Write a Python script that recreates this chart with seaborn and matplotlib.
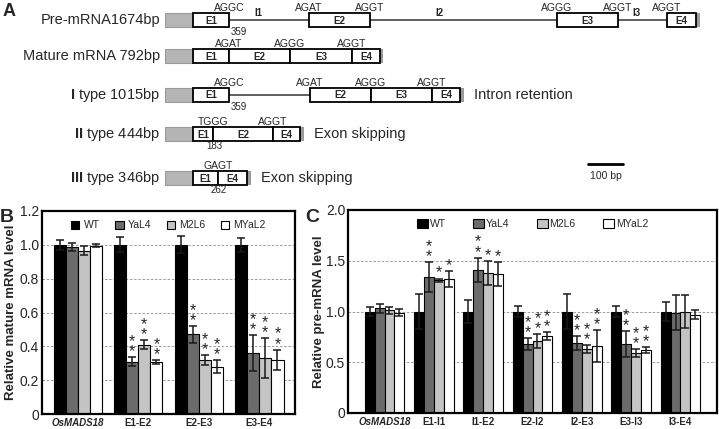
import numpy as np
import pandas as pd
import seaborn as sns
import matplotlib.pyplot as plt
from matplotlib.patches import Rectangle

# ---- data -------------------------------------------------------------
lines = ['WT', 'YaL4', 'M2L6', 'MYaL2']
colors = ['#000000', '#6b6b6b', '#c4c4c4', '#ffffff']

# B: relative mature mRNA level
b_targets = ['OsMADS18', 'E1-E2', 'E2-E3', 'E3-E4']
b_wt = [1.0, 1.0, 1.0, 1.0]
b_wt_err = [0.03, 0.045, 0.05, 0.04]
b_yal4 = [0.985, 0.31, 0.47, 0.36]
b_yal4_err = [0.024, 0.025, 0.05, 0.105]
b_m2l6 = [0.965, 0.41, 0.32, 0.33]
b_m2l6_err = [0.027, 0.025, 0.028, 0.12]
b_myal2 = [0.995, 0.305, 0.28, 0.32]
b_myal2_err = [0.01, 0.012, 0.037, 0.06]
b_stars = [[0, 0, 0, 0], [0, 2, 2, 2], [0, 2, 2, 2], [0, 2, 2, 2]]  # per line

# C: relative pre-mRNA level
c_targets = ['OsMADS18', 'E1-I1', 'I1-E2', 'E2-I2', 'I2-E3', 'E3-I3', 'I3-E4']
c_wt = [1.0, 1.0, 1.0, 1.0, 1.0, 1.0, 1.0]
c_wt_err = [0.04, 0.17, 0.115, 0.05, 0.17, 0.055, 0.09]
c_yal4 = [1.03, 1.34, 1.41, 0.68, 0.69, 0.68, 0.99]
c_yal4_err = [0.04, 0.15, 0.12, 0.055, 0.07, 0.13, 0.17]
c_m2l6 = [1.01, 1.31, 1.38, 0.71, 0.63, 0.59, 1.0]
c_m2l6_err = [0.035, 0.015, 0.12, 0.07, 0.04, 0.04, 0.16]
c_myal2 = [0.99, 1.32, 1.37, 0.76, 0.66, 0.62, 0.97]
c_myal2_err = [0.035, 0.08, 0.12, 0.04, 0.16, 0.03, 0.045]
c_stars = [[0, 0, 0, 0, 0, 0, 0], [0, 2, 2, 2, 2, 2, 0],
           [0, 1, 1, 2, 2, 2, 0], [0, 1, 1, 2, 2, 2, 0]]

# A: transcript structures (segment kind, length in drawing units, name)
row_names = ['Pre-mRNA1674bp', 'Mature mRNA 792bp', r'$\mathbf{I}$ type 1015bp',
             r'$\mathbf{II}$ type 444bp', r'$\mathbf{III}$ type 346bp']
row_segs = [
    [('utr', 28, ''), ('exon', 36, 'E1'), ('intron', 80, 'I1'), ('exon', 61, 'E2'),
     ('intron', 187, 'I2'), ('exon', 61, 'E3'), ('intron', 49, 'I3'), ('exon', 29, 'E4'),
     ('tail', 4, '')],
    [('utr', 28, ''), ('exon', 36, 'E1'), ('exon', 61, 'E2'), ('exon', 62, 'E3'),
     ('exon', 28, 'E4'), ('tail', 3, '')],
    [('utr', 28, ''), ('exon', 36, 'E1'), ('intron', 81, ''), ('exon', 61, 'E2'),
     ('exon', 61, 'E3'), ('exon', 28, 'E4'), ('tail', 4, '')],
    [('utr', 28, ''), ('exon', 20, 'E1'), ('exon', 60, 'E2'), ('exon', 27, 'E4'),
     ('tail', 4, '')],
    [('utr', 28, ''), ('exon', 25, 'E1'), ('exon', 29, 'E4'), ('tail', 4, '')],
]
row_sites = [
    [(2, 'AGGC'), (3, 'AGAT'), (4, 'AGGT'), (5, 'AGGG'), (6, 'AGGT'), (7, 'AGGT')],
    [(2, 'AGAT'), (3, 'AGGG'), (4, 'AGGT')],
    [(2, 'AGGC'), (3, 'AGAT'), (4, 'AGGG'), (5, 'AGGT')],
    [(2, 'TGGG'), (3, 'AGGT')],
    [(2, 'GAGT')],
]
row_pos = [[(2, '359')], [], [(2, '359')], [(2, '183')], [(2, '262')]]
row_notes = ['', '', 'Intron retention', 'Exon skipping', 'Exon skipping']

# ---- style ------------------------------------------------------------
sns.set_theme(style='white')
plt.rcParams['font.family'] = ['Liberation Sans', 'DejaVu Sans']
plt.rcParams['mathtext.fontset'] = 'custom'
plt.rcParams['mathtext.rm'] = 'Liberation Sans'
plt.rcParams['mathtext.bf'] = 'Liberation Sans:bold'

W, H = 719, 429
fig = plt.figure(figsize=(W / 100, H / 100), dpi=100)
fig.patch.set_facecolor('white')

ax_a = fig.add_axes([0, 0, 1, 1])
ax_a.set_xlim(0, W)
ax_a.set_ylim(H, 0)
ax_a.axis('off')


def draw_transcript(ax, y, segs, x0=165, h=14):
    x = x0
    edges = [x]
    for kind, w, name in segs:
        if kind == 'utr':
            ax.add_patch(Rectangle((x, y - h / 2), w, h, fc='#b5b5b5', ec='#9a9a9a', lw=0.8))
        elif kind == 'tail':
            ax.add_patch(Rectangle((x, y - h / 2), w, h, fc='#9c9c9c', ec='none'))
        elif kind == 'exon':
            ax.add_patch(Rectangle((x, y - h / 2), w, h, fc='white', ec='black', lw=1.3, zorder=3))
            ax.text(x + w / 2, y + 0.5, name, ha='center', va='center', fontsize=7,
                    weight='bold', zorder=4)
        elif kind == 'intron':
            ax.plot([x, x + w], [y, y], color='#444444', lw=1.2)
            if name:
                ax.text(x + 0.37 * w, y - 2, name, ha='center', va='bottom',
                        fontsize=7, weight='bold')
        x += w
        edges.append(x)
    return edges


row_y = [20, 56, 95, 134, 178]
for y, name, segs, sites, pos, note in zip(row_y, row_names, row_segs, row_sites,
                                           row_pos, row_notes):
    edges = draw_transcript(ax_a, y, segs)
    ax_a.text(160, y, name, ha='right', va='center', fontsize=10.5)
    for i, s in sites:
        ax_a.text(edges[i], y - 9, s, ha='center', va='baseline', fontsize=7.5)
    for i, s in pos:
        off = 10 if s == '359' else 1
        ax_a.text(edges[i] + off, y + 7, s, ha='center', va='top', fontsize=7)
    if note:
        ax_a.text(edges[-1] + 10, y, note, ha='left', va='center', fontsize=10.5)

ax_a.plot([588, 623], [164, 164], color='black', lw=2)
ax_a.text(605.5, 176, '100 bp', ha='center', va='center', fontsize=7.5)
ax_a.text(3, 11, 'A', ha='left', va='center', fontsize=13, weight='bold')
ax_a.text(0, 217, 'B', ha='left', va='center', fontsize=14, weight='bold')
ax_a.text(305, 217, 'C', ha='left', va='center', fontsize=14, weight='bold')


def bar_panel(ax, targets, vals, errs, stars, ymax, step, ylabel, label_x, leg_kw):
    df = pd.DataFrame({
        'target': targets * len(lines),
        'line': np.repeat(lines, len(targets)),
        'value': np.concatenate(vals),
    })
    sns.barplot(data=df, x='target', y='value', hue='line', hue_order=lines,
                palette=colors, edgecolor='black', linewidth=0.8, errorbar=None,
                width=0.8, ax=ax, zorder=2)
    for cont, e, s in zip(ax.containers, errs, stars):
        xs = [b.get_x() + b.get_width() / 2 for b in cont]
        hs = [b.get_height() for b in cont]
        ax.errorbar(xs, hs, yerr=e, fmt='none', ecolor='#1a1a1a', elinewidth=1.1,
                    capsize=3.2, capthick=1.1, zorder=3)
        for x, h, ee, n in zip(xs, hs, e, s):
            if n:
                ax.annotate('\n'.join(['*'] * n), (x, h + ee), xytext=(0, -1.5),
                            textcoords='offset points', ha='center', va='bottom',
                            fontsize=11.5, linespacing=0.6)

    ax.set_ylim(0, ymax)
    ticks = np.arange(0, ymax + 1e-9, step)
    ax.set_yticks(ticks)
    ax.set_yticklabels(['0' if t == 0 else f'{t:.1f}' for t in ticks])
    ax.yaxis.grid(True, linestyle=(0, (3, 2)), color='#8c8c8c', lw=0.6)
    ax.xaxis.grid(False)
    ax.set_axisbelow(True)
    for sp in ax.spines.values():
        sp.set_visible(True)
        sp.set_color('black')
        sp.set_linewidth(1.6)
    ax.tick_params(axis='y', length=0, pad=2, labelsize=10)
    ax.tick_params(axis='x', length=0, pad=3, labelsize=7)
    for t in ax.get_xticklabels():
        t.set_fontweight('bold')
    ax.get_xticklabels()[0].set_fontstyle('italic')
    ax.set_xlabel('')
    ax.set_ylabel(ylabel, fontsize=9.5, weight='bold')
    ax.yaxis.set_label_coords(label_x, 0.5)
    sns.move_legend(ax, 'upper center', bbox_to_anchor=(0.5, 1.0), ncol=4,
                    frameon=False, title=None, fontsize=7.5, **leg_kw)


ax_b = fig.add_axes([42 / W, (H - 414) / H, (295 - 42) / W, (414 - 211) / H])
bar_panel(ax_b, b_targets, [b_wt, b_yal4, b_m2l6, b_myal2],
          [b_wt_err, b_yal4_err, b_m2l6_err, b_myal2_err], b_stars,
          1.2, 0.2, 'Relative mature mRNA level', -0.10,
          dict(handlelength=0.8, handleheight=0.8, handletextpad=0.4, columnspacing=1.5))

ax_c = fig.add_axes([348 / W, (H - 413) / H, (717 - 348) / W, (413 - 210) / H])
bar_panel(ax_c, c_targets, [c_wt, c_yal4, c_m2l6, c_myal2],
          [c_wt_err, c_yal4_err, c_m2l6_err, c_myal2_err], c_stars,
          2.0, 0.5, 'Relative pre-mRNA level', -0.063,
          dict(handlelength=1.1, handleheight=0.9, handletextpad=0.15, columnspacing=2.6))

fig.savefig('out.png', dpi=100, facecolor='white')
